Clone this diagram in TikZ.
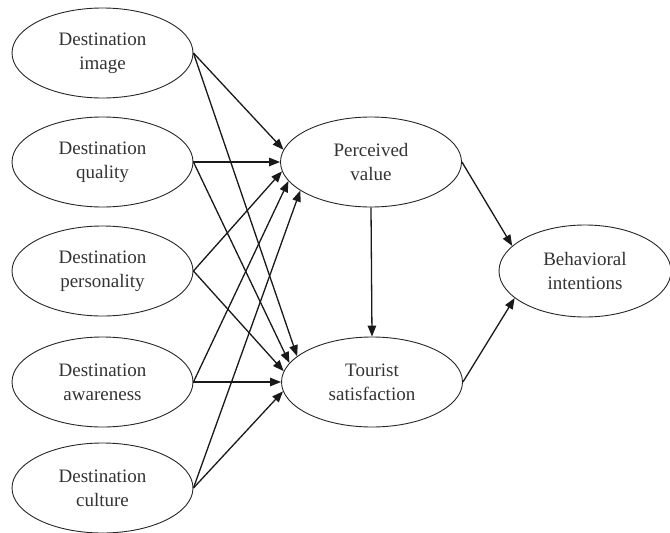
\documentclass[tikz,border=0pt]{standalone}
\usepackage{fontspec}
\setmainfont{Liberation Serif}
\usetikzlibrary{shapes.geometric,arrows.meta}
\tikzset{
  oval/.style={ellipse, draw=black!85, line width=0.9pt, minimum width=181pt, minimum height=90pt, inner sep=0pt, align=center, text=black!80, font=\fontsize{19}{24}\selectfont},
  link/.style={draw=black!90, line width=1.3pt, -{Triangle[length=11pt,width=8.5pt]}}
}
\begin{document}
\begin{tikzpicture}[x=1pt,y=-1pt]
\useasboundingbox (0,0) rectangle (670,533);
\node[oval] (img) at (102.5,53) {Destination\\image};
\node[oval] (qua) at (102.5,162) {Destination\\quality};
\node[oval] (per) at (102.5,271) {Destination\\personality};
\node[oval] (awa) at (102.5,382) {Destination\\awareness};
\node[oval] (cul) at (102.5,488) {Destination\\culture};
\node[oval] (pv) at (371,162) {Perceived\\value};
\node[oval] (ts) at (372,382) {Tourist\\satisfaction};
\node[oval, minimum width=172pt, minimum height=92pt] (bi) at (585,271) {Behavioral\\intentions};
% to perceived value
\draw[link] (img.east) -- (pv.172.6);
\draw[link] (qua.east) -- (pv.180);
\draw[link] (per.east) -- (pv.186.9);
\draw[link] (awa.east) -- (pv.193.4);
\draw[link] (cul.east) -- (pv.202.9);
% to tourist satisfaction
\draw[link] (img.east) -- (ts.161.1);
\draw[link] (qua.east) -- (ts.167.3);
\draw[link] (per.east) -- (ts.173.3);
\draw[link] (awa.east) -- (ts.180);
\draw[link] (cul.east) -- (ts.186.7);
% right part
\draw[link] (pv.south) -- (ts.north);
\draw[link] (pv.east) -- (bi.161.6);
\draw[link] (ts.east) -- (bi.201.7);
\end{tikzpicture}
\end{document}
